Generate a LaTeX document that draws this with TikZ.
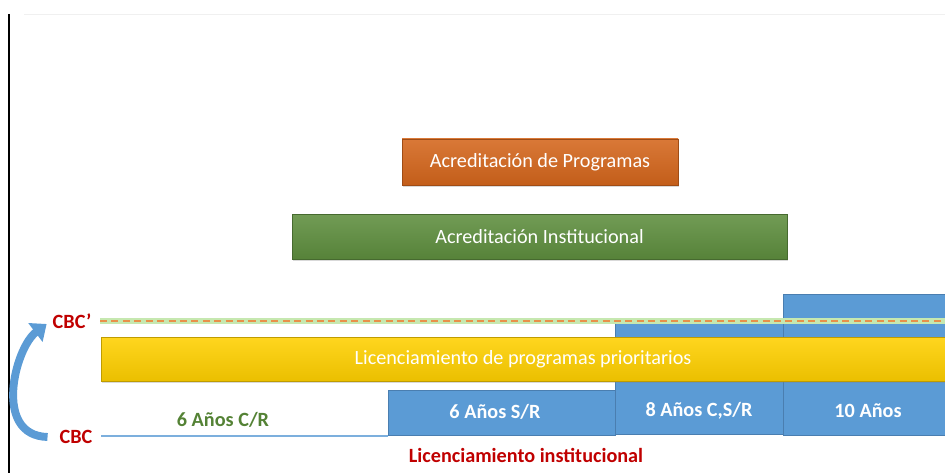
\documentclass[tikz,border=0pt]{standalone}
\usepackage{fontspec}
\setmainfont{Carlito}
\usetikzlibrary{arrows.meta,shadows}
\definecolor{orangebar}{HTML}{D4661C}
\definecolor{greenbar}{HTML}{5E8E3E}
\definecolor{yellowbar}{HTML}{FFD000}
\definecolor{bluebox}{HTML}{5B9BD5}
\definecolor{blueedge}{HTML}{4A7EB0}
\definecolor{redtext}{HTML}{C00000}
\definecolor{greentext}{HTML}{548235}
\definecolor{dashorange}{HTML}{E8904A}
\definecolor{glowgreen}{HTML}{C6E8B0}
\tikzset{
  bar/.style={draw=#1!75!black, line width=0.4pt, top color=#1!88!white, middle color=#1,
    bottom color=#1!92!black, text=white, inner sep=0pt,
    drop shadow={opacity=0.3, shadow xshift=0.6pt, shadow yshift=-0.9pt},
    font=\fontsize{11.5}{13}\selectfont},
  stepblock/.style={draw=blueedge, fill=bluebox, line width=0.4pt, inner sep=0pt, anchor=south},
  blocklabel/.style={text=white, font=\fontsize{11.5}{13}\selectfont\bfseries},
  tag/.style={font=\fontsize{11.5}{13}\selectfont\bfseries, inner sep=1pt},
  bendarrow/.style={draw=bluebox, line width=4.5pt, -{Triangle[length=8pt,width=13pt]}}
}

\begin{document}
\begin{tikzpicture}
			%%%%% START %%%%%
			\useasboundingbox (0,0) rectangle (18.9,9.46);
			
			\draw[line width=0.7pt] (0.18,9.18) -- (0.18,0);
			\draw[black!6] (0.48,9.18) -- (18.9,9.18);
			
			% upper bars
			\node[bar=orangebar, minimum width=5.52cm, minimum height=0.92cm] (acprog) at (10.8,6.22) {Acreditación de Programas};
			\node[bar=greenbar, minimum width=9.9cm, minimum height=0.9cm] (acinst) at (10.79,4.73) {Acreditación Institucional};
			
			% steps of the institutional licence
			\node[stepblock, minimum width=4.54cm, minimum height=0.9cm] (six) at (10.03,0.74) {};
			\node[stepblock, minimum width=3.36cm, minimum height=2.22cm] (eight) at (13.98,0.76) {};
			\node[stepblock, minimum width=3.24cm, minimum height=2.82cm] (ten) at (17.28,0.74) {};
			\node[blocklabel] (sixlbl) at (9.9,1.22) {6 Años S/R};
			\node[blocklabel] (eightlbl) at (13.98,1.24) {8 Años C,S/R};
			\node[blocklabel] (tenlbl) at (17.36,1.24) {10 Años};
			
			\node[bar=yellowbar, minimum width=16.88cm, minimum height=0.88cm] (licprog) at (10.46,2.28) {Licenciamiento de programas prioritarios};
			
			% CBC levels
			\node[tag, text=redtext] (cbcp) at (1.44,3.04) {CBC’};
			\node[tag, text=redtext] (cbc) at (1.52,0.72) {CBC};
			\coordinate (dashL) at (2.0,3.04);
			\coordinate (dashR) at (18.9,3.04);
			\coordinate (baseL) at (2.02,0.74);
			\draw[glowgreen, line width=3pt] (dashL) -- (dashR);
			\draw[dashorange, line width=1.1pt, dash pattern=on 4pt off 2.5pt] (dashL) -- (dashR);
			\draw[bluebox!80!white, line width=0.6pt] (baseL) -- (six.south west);
			
			\draw[bendarrow] ([xshift=-0.2cm]cbc.west) .. controls (-0.15,0.75) and (0.3,2.5) .. ([xshift=-0.08cm,yshift=-0.06cm]cbcp.west);
			
			\node[tag, text=greentext] (sixcr) at (4.46,1.06) {6 Años C/R};
			\node[tag, text=redtext] (licinst) at (10.52,0.36) {Licenciamiento institucional};
			%%%%% END %%%%%
		\end{tikzpicture}
\end{document}
